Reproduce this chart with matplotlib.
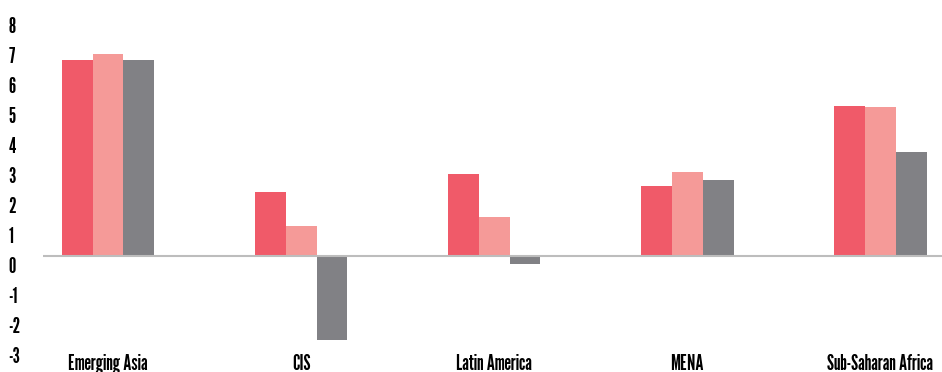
import numpy as np
import matplotlib.pyplot as plt
import matplotlib.transforms as mtransforms

regions = ['Emerging Asia', 'CIS', 'Latin America', 'MENA', 'Sub-Saharan Africa']
series_a = [6.55, 2.15, 2.75, 2.35, 5.0]
series_b = [6.75, 1.0, 1.3, 2.8, 4.97]
series_c = [6.55, -2.8, -0.27, 2.55, 3.47]
yticks = [-3, -2, -1, 0, 1, 2, 3, 4, 5, 6, 7, 8]

colors = ['#F05A69', '#F59A98', '#818185']

plt.rcParams['font.family'] = ['League Gothic', 'Antonio', 'DejaVu Sans']

fig = plt.figure(figsize=(9.42, 3.72), dpi=100)
ax = fig.add_axes([43 / 942, 1 - 346 / 372, 1 - 43 / 942, 330 / 372])

x = np.arange(len(regions))
w = 0.16
ax.bar(x - w, series_a, w, color=colors[0])
ax.bar(x, series_b, w, color=colors[1])
ax.bar(x + w, series_c, w, color=colors[2])

ax.axhline(0, color='#BDBDBD', linewidth=1.5, zorder=3)
ax.set_xlim(-0.337, 4.32)
ax.set_ylim(-3, 8)

for s in ax.spines.values():
    s.set_visible(False)

ax.set_xticks(x)
ax.set_xticklabels(regions, fontsize=15)
ax.set_yticks(yticks)
ax.set_yticklabels([str(v) for v in yticks], fontsize=15, ha='left')
ax.tick_params(axis='both', length=0)
ax.tick_params(axis='y', pad=25)
ax.tick_params(axis='x', pad=5.5)

# labels sit a little below their gridline value in the original
off = mtransforms.ScaledTranslation(0, -9 / 100, fig.dpi_scale_trans)
for lab in ax.get_yticklabels():
    lab.set_transform(lab.get_transform() + off)

fig.savefig('out.png', dpi=100)
